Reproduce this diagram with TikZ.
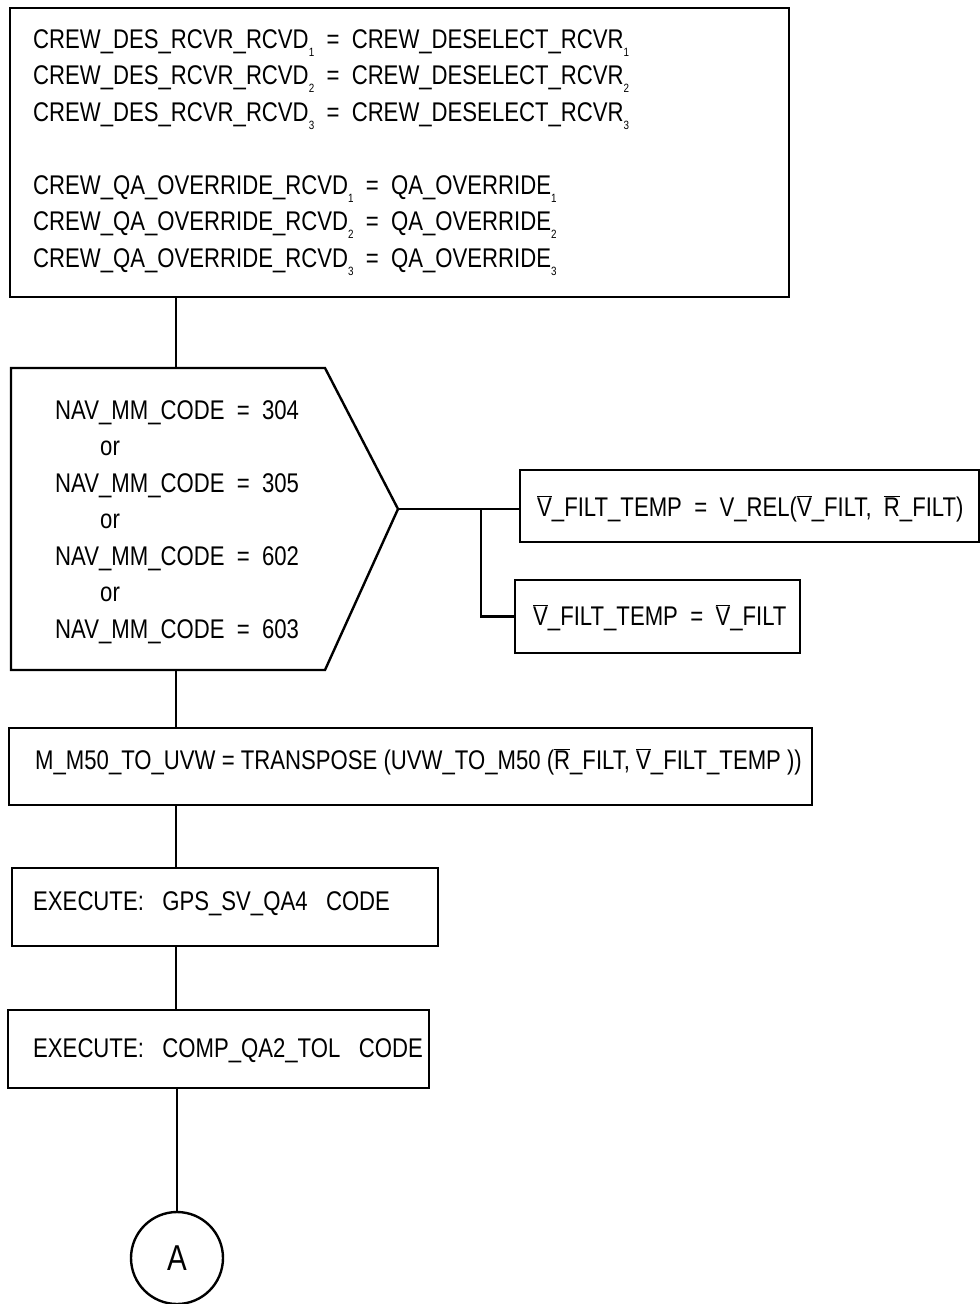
\documentclass[tikz,border=0pt]{standalone}
\usepackage{fontspec}
\setmainfont{Liberation Sans}[FakeStretch=0.82]
\newcommand{\lowsub}[1]{\raisebox{-8pt}{\fontsize{12}{12}\selectfont #1}}
\newcommand{\vecbar}[1]{$\overline{\mbox{#1}}$}
\tikzset{
  box/.style={draw, line width=2.4, rectangle, inner sep=0pt},
  flow/.style={line width=2.4},
  label/.style={anchor=west, inner sep=0pt, align=left}
}
\begin{document}
\begin{tikzpicture}[x=1pt, y=-1pt, font=\fontsize{27}{36.5}\selectfont]
    \useasboundingbox (0,0) rectangle (980,1304);
    \coordinate (trunk) at (176,0);

    % top assignment box
    \node[box, minimum width=779, minimum height=289] (crew) at (399.5,152.5) {};
    \node[label, anchor=north west] (crewtext) at (33,29) {%
      CREW\_DES\_RCVR\_RCVD\lowsub{1} ~=~ CREW\_DESELECT\_RCVR\lowsub{1}\\
      CREW\_DES\_RCVR\_RCVD\lowsub{2} ~=~ CREW\_DESELECT\_RCVR\lowsub{2}\\
      CREW\_DES\_RCVR\_RCVD\lowsub{3} ~=~ CREW\_DESELECT\_RCVR\lowsub{3}\\[36.5pt]
      CREW\_QA\_OVERRIDE\_RCVD\lowsub{1} ~=~ QA\_OVERRIDE\lowsub{1}\\
      CREW\_QA\_OVERRIDE\_RCVD\lowsub{2} ~=~ QA\_OVERRIDE\lowsub{2}\\
      CREW\_QA\_OVERRIDE\_RCVD\lowsub{3} ~=~ QA\_OVERRIDE\lowsub{3}};

    % decision shape
    \coordinate (dnw) at (11,368);
    \coordinate (dne) at (325,368);
    \coordinate (dtip) at (398,509);
    \coordinate (dse) at (325,670);
    \coordinate (dsw) at (11,670);
    \draw[flow] (dnw) -- (dne) -- (dtip) -- (dse) -- (dsw) -- cycle;
    \node[label, anchor=north west] (navcode) at (55,400) {%
      NAV\_MM\_CODE ~=~ 304\\
      \hspace*{45pt}or\\
      NAV\_MM\_CODE ~=~ 305\\
      \hspace*{45pt}or\\
      NAV\_MM\_CODE ~=~ 602\\
      \hspace*{45pt}or\\
      NAV\_MM\_CODE ~=~ 603};

    % branch boxes
    \node[box, minimum width=459, minimum height=72] (rel) at (749.5,506) {};
    \node[label] (reltext) at (537,509) {\vecbar{V}\_FILT\_TEMP ~=~ V\_REL(\vecbar{V}\_FILT, ~\vecbar{R}\_FILT)};
    \node[box, minimum width=285, minimum height=73] (equal) at (657.5,616.5) {};
    \node[label] (equaltext) at (533,618) {\vecbar{V}\_FILT\_TEMP ~=~ \vecbar{V}\_FILT};
    \coordinate (fork) at (481,0);

    % lower boxes
    \node[box, minimum width=803, minimum height=77] (m50) at (410.5,766.5) {};
    \node[label] (m50text) at (35,762) {M\_M50\_TO\_UVW = TRANSPOSE (UVW\_TO\_M50 (\vecbar{R}\_FILT, \vecbar{V}\_FILT\_TEMP ))};
    \node[box, minimum width=426, minimum height=78] (gps) at (225,907) {};
    \node[label] (gpstext) at (33,904) {EXECUTE: ~ GPS\_SV\_QA4 ~ CODE};
    \node[box, minimum width=421, minimum height=78] (comp) at (218.5,1049) {};
    \node[label] (comptext) at (33,1051) {EXECUTE: ~ COMP\_QA2\_TOL ~ CODE};
    \node[draw, line width=2.4, circle, minimum size=92, inner sep=0pt,
          font=\fontsize{36}{36}\selectfont] (conn) at (177,1258) {A};

    % connectors
    \draw[flow] (crew.south -| trunk) -- (dnw -| trunk);
    \draw[flow] (dtip) -- (dtip -| rel.west);
    \draw[flow] (dtip -| fork) |- (equal.west);
    \draw[flow] (dsw -| trunk) -- (m50.north -| trunk);
    \draw[flow] (m50.south -| trunk) -- (gps.north -| trunk);
    \draw[flow] (gps.south -| trunk) -- (comp.north -| trunk);
    \draw[flow] (comp.south -| conn) -- (conn.north);
\end{tikzpicture}
\end{document}
